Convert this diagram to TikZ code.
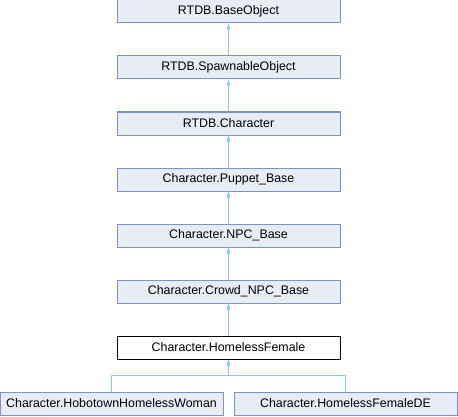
\documentclass[tikz,border=0pt]{standalone}
\usepackage{fontspec}
\setmainfont{Liberation Sans}
\usetikzlibrary{arrows.meta}
\definecolor{boxfill}{HTML}{E8ECF5}
\definecolor{boxline}{HTML}{7B93C9}
\definecolor{edgecol}{HTML}{8EC5E8}
\begin{document}
\begin{tikzpicture}[x=1pt,y=1pt,
  cls/.style={draw=boxline,fill=boxfill,line width=1pt,minimum width=223pt,minimum height=23pt,inner sep=0pt,font=\fontsize{12.4}{14}\selectfont},
  cur/.style={cls,draw=black,fill=white},
  inh/.style={draw=edgecol,line width=1pt,-{Triangle[width=4pt,length=6pt]}}]
\useasboundingbox (0,0) rectangle (458,416);
\node[cls] (base) at (228.5,404.5) {RTDB.BaseObject};
\node[cls] (spawn) at (228.5,348.5) {RTDB.SpawnableObject};
\node[cls] (rchar) at (228.5,292.5) {RTDB.Character};
\node[cls] (puppet) at (228.5,236.5) {Character.Puppet\_Base};
\node[cls] (npc) at (228.5,180.5) {Character.NPC\_Base};
\node[cls] (crowd) at (228.5,124.5) {Character.Crowd\_NPC\_Base};
\node[cur] (hf) at (228.5,68.5) {Character.HomelessFemale};
\node[cls] (hob) at (111.5,12.5) {Character.HobotownHomelessWoman};
\node[cls] (hde) at (345.5,12.5) {Character.HomelessFemaleDE};
\coordinate (j) at (228.5,41);
\draw[inh] (spawn) -- (base);
\draw[inh] (rchar) -- (spawn);
\draw[inh] (puppet) -- (rchar);
\draw[inh] (npc) -- (puppet);
\draw[inh] (crowd) -- (npc);
\draw[inh] (hf) -- (crowd);
\draw[inh] (hob.north) |- (j) -- (hf.south);
\draw[draw=edgecol,line width=1pt] (hde.north) |- (j);
\end{tikzpicture}
\end{document}
